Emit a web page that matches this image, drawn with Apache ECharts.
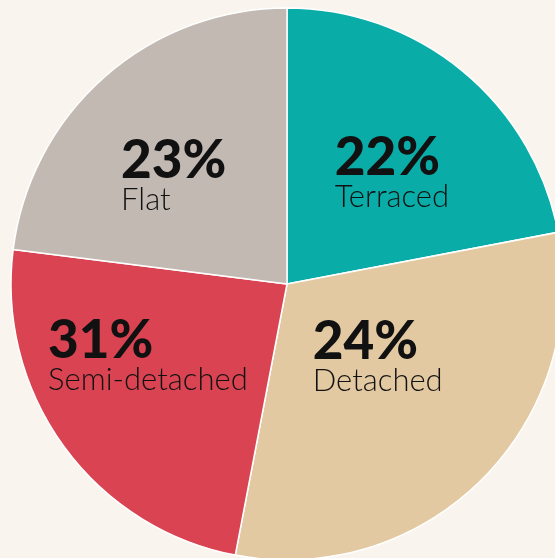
<!DOCTYPE html>
<html>
<head>
<meta charset="utf-8">
<script src="https://cdn.jsdelivr.net/npm/echarts@6/dist/echarts.min.js"></script>
<style>
  html, body { margin: 0; padding: 0; background: #f9f5ee; }
  #chart { width: 555px; height: 558px; }
</style>
</head>
<body>
<div id="chart"></div>
<script>
// slice order clockwise from 12 o'clock
const categories = ['Terraced', 'Detached', 'Semi-detached', 'Flat']
const sliceValues = [22, 31, 24, 23] // sizes as drawn in the picture
const pctLabels = ['22%', '24%', '31%', '23%'] // text printed on each slice
const colors = ['#0aaca7', '#e3c9a1', '#da4452', '#c2b9b2']
const labelOffsets = [[15, -1], [-9, -26], [-25, -10], [-20, -1]]

const chart = echarts.init(document.getElementById('chart'))

const seriesData = categories.map((name, i) => ({
  name: name,
  value: sliceValues[i],
  itemStyle: { color: colors[i] },
  label: {
    offset: labelOffsets[i],
    formatter: '{p|' + pctLabels[i] + '}\n{n|' + name + '}',
  },
}))

chart.setOption({
  backgroundColor: '#f9f5ee',
  animation: false,
  series: [
    {
      type: 'pie',
      center: [287, 284],
      radius: [0, 276],
      startAngle: 90,
      clockwise: true,
      silent: true,
      itemStyle: {
        borderColor: '#ffffff',
        borderWidth: 1.5,
      },
      label: {
        show: true,
        position: 'inside',
        color: '#111',
        rich: {
          p: {
            fontFamily: 'Lato',
            fontWeight: 900,
            fontSize: 53,
            lineHeight: 46,
            color: '#111',
            align: 'left',
          },
          n: {
            fontFamily: 'Lato',
            fontWeight: 300,
            fontSize: 31,
            lineHeight: 32,
            color: '#111',
            align: 'left',
          },
        },
      },
      labelLine: { show: false },
      data: seriesData,
    },
  ],
})
</script>
</body>
</html>
